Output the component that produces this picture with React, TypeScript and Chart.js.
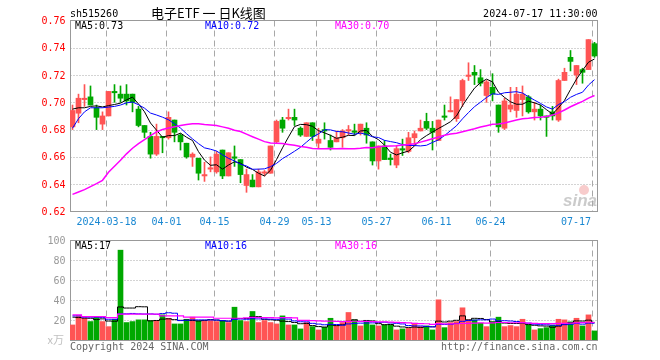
import React, { useEffect, useRef } from "react";
import { Chart, registerables } from "chart.js";

Chart.register(...registerables);

// ---------- data ----------
const tickIndex = [6, 16, 24, 34, 41, 51, 61, 70, 87];
const tickLabels = ["2024-03-18", "04-01", "04-15", "04-29", "05-13", "05-27", "06-11", "06-24", "07-17"];

const openP = [
  0.682, 0.692, 0.702, 0.704, 0.696, 0.684, 0.690, 0.708, 0.706, 0.706,
  0.706, 0.695, 0.683, 0.675, 0.662, 0.675, 0.674, 0.687, 0.676, 0.670,
  0.660, 0.659, 0.646, 0.651, 0.649, 0.665, 0.646, 0.660, 0.658, 0.639,
  0.643, 0.638, 0.648, 0.648, 0.671, 0.687, 0.688, 0.689, 0.681, 0.675,
  0.685, 0.670, 0.680, 0.672, 0.671, 0.674, 0.679, 0.679, 0.678, 0.681,
  0.671, 0.657, 0.668, 0.659, 0.654, 0.666, 0.664, 0.674, 0.679, 0.686,
  0.681, 0.672, 0.690, 0.693, 0.688, 0.701, 0.719, 0.722, 0.718, 0.705,
  0.711, 0.698, 0.681, 0.695, 0.694, 0.702, 0.704, 0.693, 0.695, 0.690,
  0.693, 0.687, 0.716, 0.733, 0.720, 0.724, 0.724, 0.743,
];
const highP = [
  0.698, 0.706, 0.713, 0.712, 0.698, 0.693, 0.708, 0.713, 0.712, 0.713,
  0.706, 0.697, 0.683, 0.678, 0.684, 0.675, 0.693, 0.687, 0.677, 0.670,
  0.663, 0.659, 0.656, 0.660, 0.664, 0.665, 0.663, 0.668, 0.658, 0.651,
  0.647, 0.651, 0.650, 0.668, 0.687, 0.689, 0.695, 0.695, 0.682, 0.685,
  0.685, 0.681, 0.685, 0.676, 0.679, 0.680, 0.683, 0.684, 0.684, 0.685,
  0.671, 0.668, 0.672, 0.662, 0.668, 0.673, 0.678, 0.679, 0.687, 0.692,
  0.686, 0.687, 0.698, 0.704, 0.702, 0.717, 0.729, 0.727, 0.724, 0.716,
  0.721, 0.698, 0.703, 0.711, 0.711, 0.712, 0.705, 0.700, 0.698, 0.690,
  0.697, 0.717, 0.725, 0.738, 0.727, 0.725, 0.746, 0.744,
];
const lowP = [
  0.680, 0.685, 0.697, 0.698, 0.680, 0.680, 0.690, 0.700, 0.700, 0.698,
  0.693, 0.682, 0.674, 0.659, 0.661, 0.663, 0.673, 0.671, 0.665, 0.659,
  0.653, 0.643, 0.642, 0.649, 0.648, 0.644, 0.646, 0.653, 0.641, 0.634,
  0.638, 0.638, 0.646, 0.648, 0.670, 0.678, 0.687, 0.683, 0.675, 0.675,
  0.672, 0.666, 0.673, 0.665, 0.671, 0.667, 0.676, 0.676, 0.676, 0.670,
  0.654, 0.651, 0.658, 0.654, 0.652, 0.661, 0.663, 0.668, 0.679, 0.680,
  0.665, 0.672, 0.687, 0.693, 0.686, 0.697, 0.716, 0.713, 0.712, 0.700,
  0.701, 0.678, 0.680, 0.693, 0.689, 0.690, 0.692, 0.687, 0.687, 0.675,
  0.687, 0.686, 0.716, 0.723, 0.713, 0.714, 0.724, 0.733,
];
const closeP = [
  0.694, 0.703, 0.703, 0.698, 0.689, 0.690, 0.708, 0.707, 0.703, 0.701,
  0.700, 0.683, 0.678, 0.662, 0.675, 0.674, 0.689, 0.678, 0.671, 0.660,
  0.662, 0.648, 0.647, 0.652, 0.662, 0.646, 0.663, 0.659, 0.647, 0.647,
  0.638, 0.649, 0.649, 0.668, 0.686, 0.681, 0.689, 0.687, 0.676, 0.685,
  0.675, 0.673, 0.679, 0.667, 0.674, 0.679, 0.680, 0.678, 0.684, 0.676,
  0.657, 0.668, 0.658, 0.658, 0.666, 0.665, 0.674, 0.677, 0.681, 0.681,
  0.678, 0.687, 0.689, 0.694, 0.702, 0.716, 0.720, 0.720, 0.714, 0.715,
  0.706, 0.682, 0.701, 0.698, 0.706, 0.706, 0.693, 0.695, 0.690, 0.689,
  0.690, 0.716, 0.722, 0.730, 0.727, 0.722, 0.746, 0.734,
];
// volume, 万手
const volume = [
  15.1, 24.2, 21.8, 18.5, 22.9, 18.5, 13.4, 20.8, 90.1, 17.5,
  18.5, 20.2, 20.2, 19.5, 19.5, 25.2, 21.8, 16.1, 16.1, 20.8,
  22.9, 19.5, 19.5, 19.5, 18.5, 19.5, 17.5, 32.9, 19.5, 18.5,
  28.6, 17.5, 19.5, 17.5, 16.1, 24.2, 15.1, 15.1, 11.1, 17.5,
  13.4, 10.1, 12.8, 21.8, 14.1, 17.5, 27.6, 20.2, 14.1, 18.5,
  15.1, 14.1, 15.1, 15.1, 10.1, 11.1, 11.8, 16.8, 13.4, 14.1,
  10.1, 40.3, 12.4, 17.5, 18.5, 32.3, 20.2, 20.2, 16.8, 13.4,
  18.5, 22.9, 13.4, 14.5, 13.4, 20.8, 15.1, 10.1, 11.4, 12.4,
  14.8, 20.8, 20.2, 18.2, 21.8, 14.1, 25.2, 9.1,
];
// moving-average values before enough bars are on screen
const ma5Lead = [0.695, 0.696, 0.696, 0.697];
const ma10Lead = [0.681, 0.688, 0.693, 0.696, 0.696, 0.696, 0.6965, 0.697, 0.698];
const ma30Lead = [
  0.6325, 0.6342, 0.636, 0.6382, 0.6404, 0.6428, 0.6487, 0.6531, 0.6575, 0.6622,
  0.6663, 0.6697, 0.6727, 0.6756, 0.6783, 0.68, 0.6812, 0.682, 0.683, 0.6837,
  0.6842, 0.6842, 0.6837, 0.6834, 0.683, 0.682, 0.681, 0.6795, 0.6786,
];
const vma5Lead = [22.9, 22.5, 22.0, 21.8];
const vma10Lead = [24.2, 24.2, 22.9, 22.9, 22.9, 22.5, 20.8, 20.8, 26.2];
const vma30Lead = [
  25.2, 25.2, 23.5, 23.5, 23.5, 23.5, 22.5, 22.5, 25.9, 25.9,
  25.9, 25.9, 25.9, 25.9, 25.9, 24.2, 24.2, 24.2, 24.2, 22.9,
  22.9, 22.9, 22.9, 22.9, 21.8, 21.8, 21.8, 21.8, 21.8,
];
const priceTicks = [0.76, 0.74, 0.72, 0.70, 0.68, 0.66, 0.64, 0.62];
const volTicks = [100, 80, 60, 40, 20];

const symbolText = "sh515260";
const titleText = "电子ETF 一 日K线图";
const timeText = "2024-07-17 11:30:00";
const priceLegend = ["MA5:0.73", "MA10:0.72", "MA30:0.70"];
const volLegend = ["MA5:17", "MA10:16", "MA30:16"];

// ---------- styles / layout ----------
const RED = "rgb(255,84,84)";
const GREEN = "rgb(0,168,0)";
const LEG_COLORS = ["#000000", "#0000ff", "#ff00ff"];
const MONO = '10px "DejaVu Sans Mono", monospace';
const AREA = { left: 70, top: 20, right: 598, bottom: 340 };
const P_TOP_PX = 20.5, P_BOT_PX = 211.4; // y of 0.76 and 0.62
const V_TOP_PX = 240.3, V_BOT_PX = 340; // y of 100 and 0
const SLOT = 6;

function movingAvg(vals: number[], n: number, lead: number[]) {
  return vals.map((_, i) => {
    if (i < n - 1) return lead[i];
    let s = 0;
    for (let k = i - n + 1; k <= i; k++) s += vals[k];
    return s / n;
  });
}

export default function App() {
  const ref = useRef<HTMLCanvasElement | null>(null);

  useEffect(() => {
    const canvas = ref.current;
    if (!canvas) return;

    const pxPerPrice = (P_BOT_PX - P_TOP_PX) / (0.76 - 0.62);
    const pMax = 0.76 + (P_TOP_PX - AREA.top) / pxPerPrice;
    const pMin = 0.62 - (AREA.bottom - P_BOT_PX) / pxPerPrice;
    const pxPerVol = (V_BOT_PX - V_TOP_PX) / 100;
    const vMax = (V_BOT_PX - AREA.top) / pxPerVol;
    const xMin = -2.5 / SLOT;
    const xMax = xMin + (AREA.right - AREA.left) / SLOT;

    const n = closeP.length;
    const up = closeP.map((c, i) => c >= openP[i]);
    const colors = up.map((u) => (u ? RED : GREEN));

    const ma5 = movingAvg(closeP, 5, ma5Lead);
    const ma10 = movingAvg(closeP, 10, ma10Lead);
    const ma30 = movingAvg(closeP, 30, ma30Lead);
    const vma5 = movingAvg(volume, 5, vma5Lead);
    const vma10 = movingAvg(volume, 10, vma10Lead);
    const vma30 = movingAvg(volume, 30, vma30Lead);
    const pts = (arr: number[]) => arr.map((v, i) => ({ x: i, y: v }));

    const crisp = (v: number) => Math.round(v - 0.01) + 0.5;

    const decor = {
      id: "decor",
      beforeDatasetsDraw(chart: any) {
        const { ctx, scales } = chart;
        const x = scales.x, yP = scales.yP, yV = scales.yV;
        const L = crisp(AREA.left), R = crisp(AREA.right - 1);
        const pT = crisp(yP.getPixelForValue(0.76)), pB = crisp(yP.getPixelForValue(0.62));
        const vT = crisp(yV.getPixelForValue(100)), vB = crisp(yV.getPixelForValue(0));
        ctx.save();

        // watermark
        ctx.fillStyle = "rgba(235,110,110,0.35)";
        ctx.beginPath();
        ctx.arc(584, 190, 5, 0, Math.PI * 2);
        ctx.fill();
        ctx.fillStyle = "rgba(160,160,160,0.55)";
        ctx.font = 'italic bold 17px "Liberation Sans", Arial, sans-serif';
        ctx.textAlign = "left";
        ctx.textBaseline = "alphabetic";
        ctx.fillText("sina", 563, 206);

        // horizontal dotted grid
        ctx.strokeStyle = "#a8a8a8";
        ctx.lineWidth = 1;
        ctx.setLineDash([1, 2]);
        priceTicks.slice(1, -1).forEach((t) => {
          const y = crisp(yP.getPixelForValue(t));
          ctx.beginPath(); ctx.moveTo(L, y); ctx.lineTo(R, y); ctx.stroke();
        });
        volTicks.slice(1).forEach((t) => {
          const y = crisp(yV.getPixelForValue(t));
          ctx.beginPath(); ctx.moveTo(L, y); ctx.lineTo(R, y); ctx.stroke();
        });

        // vertical dashed grid at date ticks
        ctx.setLineDash([6, 4]);
        ctx.strokeStyle = "#a8a8a8";
        tickIndex.forEach((ti) => {
          const gx = crisp(x.getPixelForValue(ti - 2 / SLOT));
          ctx.beginPath(); ctx.moveTo(gx, pT); ctx.lineTo(gx, pB); ctx.stroke();
          ctx.beginPath(); ctx.moveTo(gx, vT); ctx.lineTo(gx, vB); ctx.stroke();
        });

        // frames
        ctx.setLineDash([]);
        ctx.strokeStyle = "#999999";
        ctx.strokeRect(L, pT, R - L, pB - pT);
        ctx.strokeRect(L, vT, R - L, vB - vT);
        ctx.restore();
      },
      afterDraw(chart: any) {
        const { ctx, scales } = chart;
        const x = scales.x, yP = scales.yP, yV = scales.yV;
        ctx.save();
        ctx.font = MONO;
        ctx.textBaseline = "middle";

        // price axis labels
        ctx.textAlign = "right";
        ctx.fillStyle = "#ff0000";
        priceTicks.forEach((t) => ctx.fillText(t.toFixed(2), 65.5, yP.getPixelForValue(t) + 1));
        // volume axis labels
        ctx.fillStyle = "#999999";
        volTicks.forEach((t) => ctx.fillText(String(t), 65.5, yV.getPixelForValue(t) + 1));
        ctx.fillStyle = "#c0c0c0";
        ctx.font = '11px "Noto Sans CJK SC", sans-serif';
        ctx.fillText("x万", 64, 340);
        ctx.font = MONO;

        // date labels
        ctx.fillStyle = "#1a88d2";
        ctx.textAlign = "center";
        tickIndex.forEach((ti, k) => {
          const gx = x.getPixelForValue(ti - 2 / SLOT);
          const w = ctx.measureText(tickLabels[k]).width;
          const cx = Math.min(gx, AREA.right - 7 - w / 2);
          ctx.fillText(tickLabels[k], cx, 222);
        });

        // header
        ctx.textBaseline = "alphabetic";
        ctx.textAlign = "left";
        ctx.fillStyle = "#000";
        ctx.fillText(symbolText, 70, 17);
        ctx.textAlign = "right";
        ctx.fillText(timeText, 597.5, 17);
        ctx.textAlign = "left";
        ctx.font = '13px "Noto Sans CJK SC", sans-serif';
        ctx.fillText(titleText, 151, 17.5);

        // legends
        ctx.font = MONO;
        ctx.textBaseline = "middle";
        const legX = [75, 205, 335];
        priceLegend.forEach((s, k) => {
          ctx.fillStyle = LEG_COLORS[k];
          ctx.fillText(s, legX[k], 26.5);
        });
        volLegend.forEach((s, k) => {
          ctx.fillStyle = LEG_COLORS[k];
          ctx.fillText(s, legX[k], 246.5);
        });

        // footer
        ctx.fillStyle = "#666666";
        ctx.textBaseline = "alphabetic";
        ctx.textAlign = "left";
        ctx.fillText("Copyright 2024 SINA.COM", 70, 349.5);
        ctx.textAlign = "right";
        ctx.fillText("http://finance.sina.com.cn", 597.5, 349.5);
        ctx.restore();
      },
    };

    const lineDs = (data: number[], color: string, axis: string, width: number, stepped: any = false) => ({
      type: "line" as const,
      data: pts(data),
      yAxisID: axis,
      borderColor: color,
      borderWidth: width,
      pointRadius: 0,
      tension: 0,
      stepped,
      order: 0,
    });

    const chart = new Chart(canvas, {
      type: "bar",
      data: {
        datasets: [
          {
            type: "bar",
            data: closeP.map((_, i) => ({ x: i, y: [lowP[i], highP[i]] })),
            yAxisID: "yP",
            backgroundColor: colors,
            borderWidth: 0,
            barThickness: 1,
            minBarLength: 1,
            grouped: false,
            order: 3,
          },
          {
            type: "bar",
            data: closeP.map((c, i) => ({ x: i, y: [openP[i], c] })),
            yAxisID: "yP",
            backgroundColor: colors,
            borderWidth: 0,
            barThickness: 5,
            minBarLength: 1,
            grouped: false,
            order: 2,
          },
          {
            type: "bar",
            data: volume.map((v, i) => ({ x: i, y: v })),
            yAxisID: "yV",
            backgroundColor: colors,
            borderWidth: 0,
            barThickness: 5,
            grouped: false,
            order: 2,
          },
          lineDs(ma30, "#ff00ff", "yP", 1.5),
          lineDs(ma10, "#0000ff", "yP", 1),
          lineDs(ma5, "#000000", "yP", 1),
          lineDs(vma30, "#ff00ff", "yV", 1.2, "middle"),
          lineDs(vma10, "#0000ff", "yV", 1, "middle"),
          lineDs(vma5, "#000000", "yV", 1, "middle"),
        ] as any,
      },
      options: {
        responsive: false,
        animation: false,
        devicePixelRatio: 1,
        layout: {
          padding: { left: AREA.left, top: AREA.top, right: 660 - AREA.right, bottom: 360 - AREA.bottom },
        },
        plugins: { legend: { display: false }, tooltip: { enabled: false } },
        scales: {
          x: { type: "linear", min: xMin, max: xMax, display: false, offset: false, bounds: "data" },
          yP: { type: "linear", min: pMin, max: pMax, display: false, bounds: "data", beginAtZero: false },
          yV: { type: "linear", min: 0, max: vMax, display: false, bounds: "data", beginAtZero: false },
        },
      } as any,
      plugins: [decor],
    });

    return () => chart.destroy();
  }, []);

  return (
    <div style={{ position: "absolute", left: 0, top: 0, width: 660, height: 360, background: "#fff" }}>
      <canvas ref={ref} width={660} height={360} style={{ display: "block" }} />
    </div>
  );
}
